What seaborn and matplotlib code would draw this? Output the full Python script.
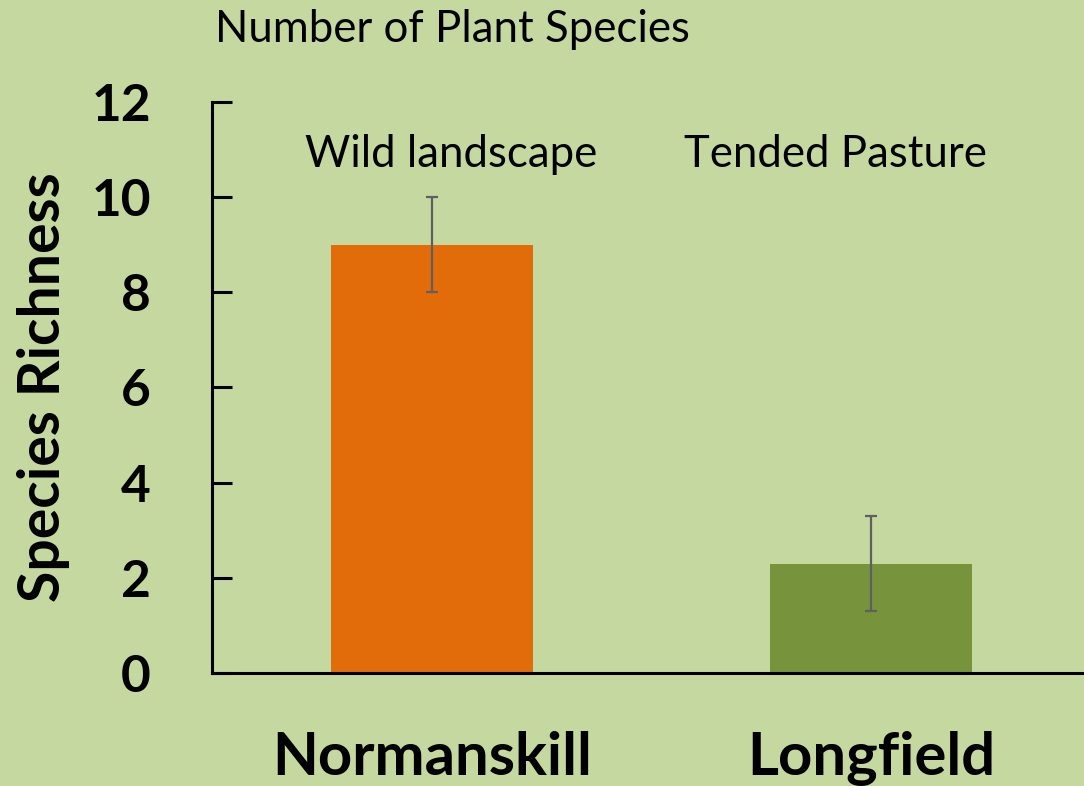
import matplotlib
matplotlib.use("Agg")
import matplotlib.pyplot as plt
import seaborn as sns
import pandas as pd

sites = ["Normanskill", "Longfield"]
richness = [9.0, 2.3]
errors = [1.0, 1.0]
bar_colors = ["#E36C0A", "#77933C"]
site_notes = ["Wild landscape", "Tended Pasture"]
y_ticks = [0, 2, 4, 6, 8, 10, 12]

BG = "#C5D89F"

sns.set_theme(style="white")
plt.rcParams["font.family"] = ["Lato", "DejaVu Sans"]
plt.rcParams["text.color"] = "black"
plt.rcParams["xtick.color"] = "black"
plt.rcParams["ytick.color"] = "black"
plt.rcParams["axes.labelcolor"] = "black"

df = pd.DataFrame({"site": sites, "richness": richness})

fig = plt.figure(figsize=(10.84, 7.86), dpi=100, facecolor=BG)
ax = fig.add_axes([0.1956, 0.1438, 0.8044, 0.7264])
ax.set_facecolor(BG)

sns.barplot(data=df, x="site", y="richness", hue="site", palette=bar_colors,
            width=0.46, legend=False, ax=ax, saturation=1, linewidth=0)
ax.errorbar(range(len(sites)), richness, yerr=errors, fmt="none",
            ecolor="#5F5F5F", elinewidth=1.6, capsize=4.3, capthick=1.6)

ax.set_ylim(0, 12)
ax.set_xlim(-0.501, 1.485)
ax.set_yticks(y_ticks)
ax.set_yticklabels([str(t) for t in y_ticks], fontsize=37, fontweight="bold")
ax.set_xticklabels(sites, fontsize=43, fontweight="bold")
ax.tick_params(axis="y", left=True, direction="in", length=14.5, width=2.2, pad=44, color="black")
ax.tick_params(axis="x", length=0, pad=42)

for side in ["top", "right"]:
    ax.spines[side].set_visible(False)
for side in ["left", "bottom"]:
    ax.spines[side].set_color("black")
    ax.spines[side].set_linewidth(2.2)

ax.set_xlabel("")
ax.set_ylabel("Species Richness", fontsize=41, fontweight="bold")
ax.yaxis.set_label_coords(-0.163, 0.5)

note_x = [0.043, 0.92]
for nx, note in zip(note_x, site_notes):
    ax.text(nx, 10.9, note, ha="center", va="center", fontsize=31.5)

fig.text(0.198, 0.962, "Number of Plant Species", ha="left", va="center", fontsize=31.5)

fig.savefig("out.png", dpi=100, facecolor=BG)
